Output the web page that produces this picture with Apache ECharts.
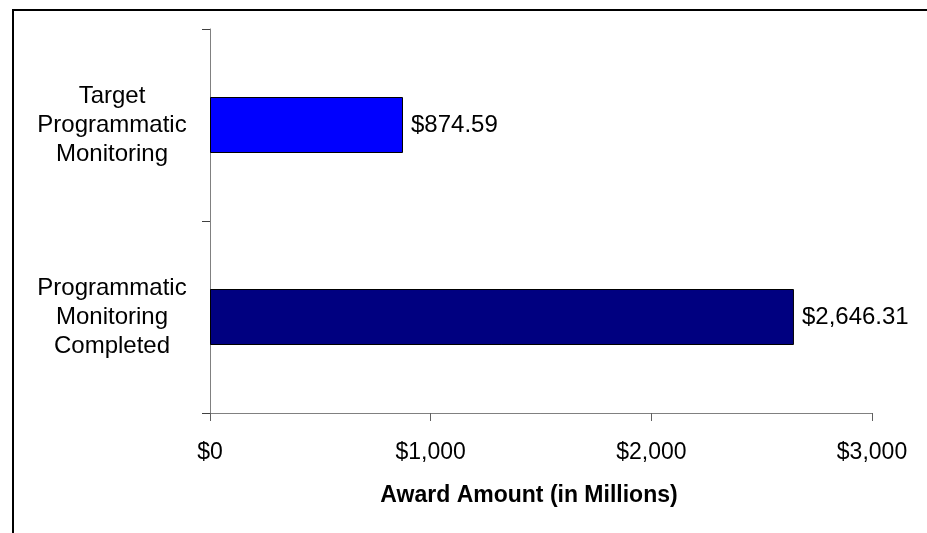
<!DOCTYPE html>
<html>
<head>
<meta charset="utf-8">
<script src="https://cdn.jsdelivr.net/npm/echarts@6/dist/echarts.min.js"></script>
<style>
html,body{margin:0;padding:0;background:#fff;}
#chart{width:927px;height:533px;}
</style>
</head>
<body>
<div id="chart"></div>
<script>
// Data (bottom to top in category order)
const categories = ['Programmatic\nMonitoring\nCompleted', 'Target\nProgrammatic\nMonitoring'];
const values = [2646.31, 874.59];
const barColors = ['#000080', '#0000FF'];
const xTicks = [0, 1000, 2000, 3000];
const axisTitle = 'Award Amount (in Millions)';

const FONT = '"Liberation Sans", Arial, sans-serif';
function money(v, dec) {
  return '$' + v.toLocaleString('en-US', {minimumFractionDigits: dec, maximumFractionDigits: dec});
}

const chart = echarts.init(document.getElementById('chart'), null, {renderer: 'canvas'});
chart.setOption({
  backgroundColor: '#ffffff',
  animation: false,
  graphic: [{
    type: 'rect',
    shape: {x: 13, y: 10, width: 940, height: 560},
    style: {fill: 'none', stroke: '#000', lineWidth: 2},
    z: 100
  }],
  grid: {left: 210, top: 29, right: 55, bottom: 120, containLabel: false},
  xAxis: {
    type: 'value',
    min: xTicks[0],
    max: xTicks[xTicks.length - 1],
    interval: 1000,
    name: axisTitle,
    nameLocation: 'middle',
    nameGap: 71,
    nameTextStyle: {fontFamily: FONT, fontSize: 23, fontWeight: 'bold', color: '#000', padding: [0, 24, 0, 0]},
    axisLine: {show: true, lineStyle: {color: '#808080', width: 1}},
    axisTick: {show: true, length: 8, lineStyle: {color: '#606060'}},
    splitLine: {show: false},
    axisLabel: {
      fontFamily: FONT, fontSize: 23, color: '#000', margin: 28,
      formatter: v => money(v, 0)
    }
  },
  yAxis: {
    type: 'category',
    data: categories,
    axisLine: {show: true, lineStyle: {color: '#808080', width: 1}},
    axisTick: {show: true, length: 8, lineStyle: {color: '#404040'}},
    axisLabel: {
      fontFamily: FONT, fontSize: 24, color: '#000', lineHeight: 29,
      align: 'center', margin: 98
    }
  },
  series: [{
    type: 'bar',
    barWidth: 56,
    data: values.map((v, i) => ({value: v, itemStyle: {color: barColors[i]}})),
    itemStyle: {borderColor: '#000', borderWidth: 1},
    label: {
      show: true, position: 'right', distance: 8,
      fontFamily: FONT, fontSize: 24, color: '#000',
      formatter: p => money(p.value, 2)
    }
  }]
});
</script>
</body>
</html>
